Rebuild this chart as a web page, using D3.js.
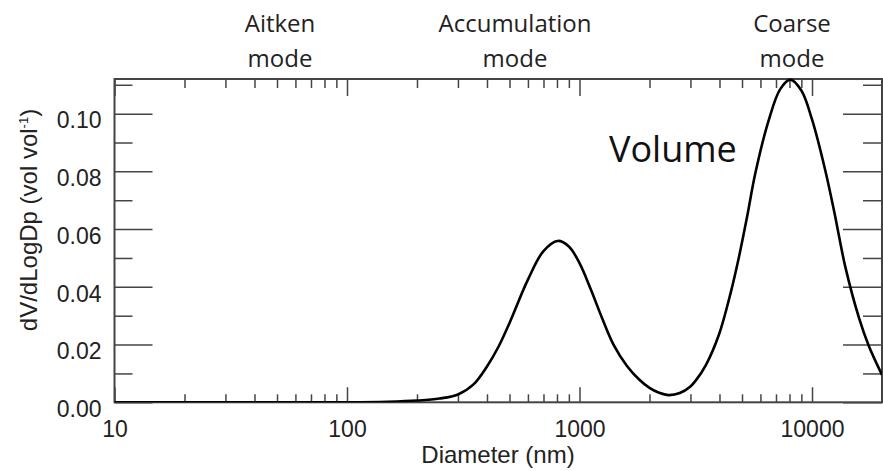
<!DOCTYPE html>
<html>
<head>
<meta charset="utf-8">
<script src="https://cdn.jsdelivr.net/npm/d3@7"></script>
<style>
    html, body { margin: 0; padding: 0; background: #fff; }
    svg { display: block; }
    .tick text { font-family: 'Liberation Sans', Arial, sans-serif; font-size: 23px; fill: #222; }
    .tick line { stroke: #444; stroke-width: 1.5; }
    .mode-label { font-family: 'Open Sans', sans-serif; font-size: 24px; fill: #222; }
</style>
</head>
<body>
<div id="chart"></div>
<script>
// volume size distribution
var diameters = [10, 50, 100, 150, 200, 250, 300, 350, 400, 450, 500, 600, 700, 805, 900,
    1000, 1120, 1250, 1400, 1600, 1800, 2000, 2200, 2410, 2700, 3000, 3160, 3500, 3980,
    4470, 4840, 5250, 5710, 6500, 7300, 8070, 9000, 10000, 11400, 12500, 13900, 16000,
    17500, 20000];
var volume = [0, 0, 0, 0.0002, 0.0006, 0.0013, 0.0027, 0.0062, 0.0124, 0.0195, 0.0275, 0.0425, 0.0524, 0.0559, 0.0540,
    0.0482, 0.0390, 0.0292, 0.0200, 0.0126, 0.0080, 0.0050, 0.0033, 0.0025, 0.0032, 0.0055, 0.0075, 0.0130, 0.0235,
    0.0380, 0.0500, 0.0640, 0.0795, 0.0975, 0.1085, 0.1118, 0.1080, 0.0980, 0.0804, 0.0655, 0.0470, 0.0287,
    0.0198, 0.0095];

var majorX = [10, 100, 1000, 10000];
var minorX = [20, 30, 40, 50, 60, 70, 80, 90, 200, 300, 400, 500, 600, 700, 800, 900,
    2000, 3000, 4000, 5000, 6000, 7000, 8000, 9000, 20000];
var majorY = [0, 0.02, 0.04, 0.06, 0.08, 0.10];
var minorY = [0.01, 0.03, 0.05, 0.07, 0.09, 0.11];
var modeNames = [['Aitken', 'mode'], ['Accumulation', 'mode'], ['Coarse', 'mode']];

var width = 883, height = 471;
var plotLeft = 114.5, plotRight = 882, plotTop = 79, plotBottom = 402.3;

var svg = d3.select('#chart').append('svg')
    .attr('width', width)
    .attr('height', height);

var x = d3.scaleLog().domain([10, 20000]).range([plotLeft, plotRight]);
var y = d3.scaleLinear().domain([0, 0.112]).range([plotBottom, plotTop]);

function noDomain(g) {
    g.select('.domain').remove();
}

// bottom axis, ticks pointing inward
svg.append('g')
    .attr('transform', 'translate(0,' + plotBottom + ')')
    .call(d3.axisBottom(x).tickValues(majorX).tickSize(-15).tickPadding(18)
        .tickFormat(d3.format('d')))
    .call(noDomain)
    .selectAll('text').attr('y', 18).attr('dy', '0.71em');
svg.append('g')
    .attr('transform', 'translate(0,' + plotBottom + ')')
    .call(d3.axisBottom(x).tickValues(minorX).tickSize(-8).tickFormat(''))
    .call(noDomain);

// top axis
svg.append('g')
    .attr('transform', 'translate(0,' + plotTop + ')')
    .call(d3.axisTop(x).tickValues(majorX).tickSize(-17).tickFormat(''))
    .call(noDomain);
svg.append('g')
    .attr('transform', 'translate(0,' + plotTop + ')')
    .call(d3.axisTop(x).tickValues(minorX).tickSize(-9).tickFormat(''))
    .call(noDomain);

// left axis
svg.append('g')
    .attr('transform', 'translate(' + plotLeft + ',0)')
    .call(d3.axisLeft(y).tickValues(majorY).tickSize(-38).tickPadding(13)
        .tickFormat(d3.format('.2f')))
    .call(noDomain)
    .selectAll('text').attr('x', -13).attr('dy', '0.62em');
svg.append('g')
    .attr('transform', 'translate(' + plotLeft + ',0)')
    .call(d3.axisLeft(y).tickValues(minorY).tickSize(-18).tickFormat(''))
    .call(noDomain);

// right axis
svg.append('g')
    .attr('transform', 'translate(' + plotRight + ',0)')
    .call(d3.axisRight(y).tickValues(majorY).tickSize(-39).tickFormat(''))
    .call(noDomain);
svg.append('g')
    .attr('transform', 'translate(' + plotRight + ',0)')
    .call(d3.axisRight(y).tickValues(minorY).tickSize(-19).tickFormat(''))
    .call(noDomain);

// frame
svg.append('rect')
    .attr('x', plotLeft)
    .attr('y', plotTop)
    .attr('width', plotRight - plotLeft)
    .attr('height', plotBottom - plotTop)
    .attr('fill', 'none')
    .attr('stroke', '#444')
    .attr('stroke-width', 2);

svg.append('clipPath').attr('id', 'plot-clip')
    .append('rect')
    .attr('x', plotLeft)
    .attr('y', plotTop - 2)
    .attr('width', plotRight - plotLeft)
    .attr('height', plotBottom - plotTop + 2);

var points = d3.zip(diameters, volume);
var line = d3.line()
    .x(function (d) { return x(d[0]); })
    .y(function (d) { return y(Math.max(0, d[1])); })
    .curve(d3.curveCatmullRom.alpha(0.5));

svg.append('path')
    .datum(points)
    .attr('clip-path', 'url(#plot-clip)')
    .attr('fill', 'none')
    .attr('stroke', '#000')
    .attr('stroke-width', 2.6)
    .attr('stroke-linejoin', 'round')
    .attr('d', line);

// axis titles
svg.append('text')
    .attr('x', 498)
    .attr('y', 463)
    .attr('text-anchor', 'middle')
    .style('font-family', "'Liberation Sans', Arial, sans-serif")
    .style('font-size', '24px')
    .attr('fill', '#222')
    .text('Diameter (nm)');

var yTitle = svg.append('text')
    .attr('transform', 'translate(37,220) rotate(-90)')
    .attr('text-anchor', 'middle')
    .style('font-family', "'Liberation Sans', Arial, sans-serif")
    .style('font-size', '24px')
    .attr('fill', '#222');
yTitle.append('tspan').text('dV/dLogDp (vol vol');
yTitle.append('tspan').attr('dy', '-9').style('font-size', '13px').text('-1');
yTitle.append('tspan').attr('dy', '9').text(')');

// mode labels above the frame
var modeCenters = [280, 515, 792];
modeNames.forEach(function (lines, i) {
    var t = svg.append('text')
        .attr('class', 'mode-label')
        .attr('text-anchor', 'middle');
    lines.forEach(function (s, j) {
        t.append('tspan')
            .attr('x', modeCenters[i])
            .attr('y', 32 + j * 35)
            .text(s);
    });
});

svg.append('text')
    .attr('x', 609)
    .attr('y', 162)
    .style('font-family', "'Open Sans', sans-serif")
    .style('font-size', '36px')
    .attr('fill', '#111')
    .text('Volume');
</script>
</body>
</html>
